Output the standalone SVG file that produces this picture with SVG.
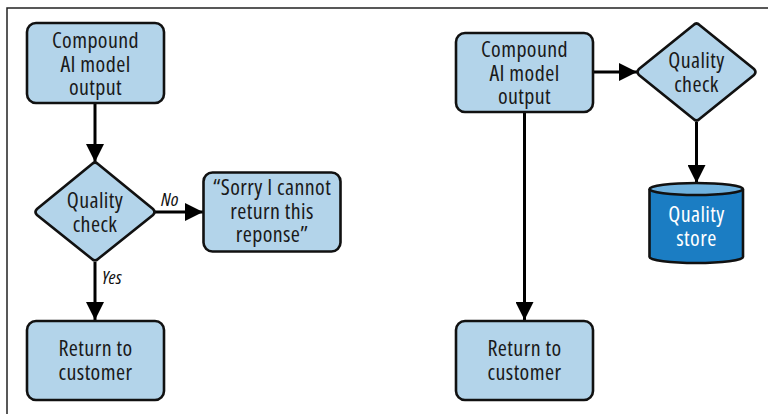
<svg xmlns="http://www.w3.org/2000/svg" width="768" height="414" viewBox="0 0 768 414">
  <style>
    .box { fill: #b3d4ea; stroke: #111; stroke-width: 2.6; }
    .lbl { font-family: "Open Sans", "Liberation Sans", sans-serif; font-stretch: 75%; font-size: 22px; letter-spacing: 0.4px; fill: #1a1a1a; text-anchor: middle; }
    .lbl-w { fill: #ffffff; }
    .edge { stroke: #000; stroke-width: 3; fill: none; }
    .tag { font-family: "Open Sans", "Liberation Sans", sans-serif; font-stretch: 75%; font-size: 19px; font-style: italic; fill: #111; }
  </style>
  <defs>
    <marker id="arrow" viewBox="0 0 18 18" refX="18" refY="9" markerWidth="18" markerHeight="18" markerUnits="userSpaceOnUse" orient="auto">
      <path d="M0,0 L18,9 L0,18 Z" fill="#000"/>
    </marker>
  </defs>

  <rect width="768" height="414" fill="#ffffff"/>
  <!-- page frame -->
  <path d="M7,414 V8 H768" fill="none" stroke="#222" stroke-width="1.5"/>

  <!-- connectors -->
  <g id="connectors">
    <line class="edge" x1="95" y1="104" x2="95" y2="162" marker-end="url(#arrow)"/>
    <line class="edge" x1="155" y1="212" x2="203" y2="212" marker-end="url(#arrow)"/>
    <line class="edge" x1="95" y1="262" x2="95" y2="320" marker-end="url(#arrow)"/>
    <text class="tag" x="161" y="206">No</text>
    <text class="tag" x="102" y="284">Yes</text>

    <line class="edge" x1="594" y1="72" x2="637" y2="72" marker-end="url(#arrow)"/>
    <line class="edge" x1="696.5" y1="122" x2="696.5" y2="183" marker-end="url(#arrow)"/>
    <line class="edge" x1="524.5" y1="113" x2="524.5" y2="320" marker-end="url(#arrow)"/>
  </g>

  <!-- left flow -->
  <g id="left-output">
    <rect class="box" x="27" y="23" width="137" height="80" rx="9"/>
    <text class="lbl" x="95.5" y="48">Compound</text>
    <text class="lbl" x="95.5" y="72">AI model</text>
    <text class="lbl" x="95.5" y="95">output</text>
  </g>
  <g id="left-check">
    <path class="box" d="M92,164 Q95,161 98,164 L153,209 Q156,212 153,215 L98,259 Q95,262 92,259 L37,215 Q34,212 37,209 Z"/>
    <text class="lbl" x="95" y="208">Quality</text>
    <text class="lbl" x="95" y="232">check</text>
  </g>
  <g id="left-refuse">
    <rect class="box" x="203.5" y="172.5" width="137" height="79" rx="9"/>
    <text class="lbl" x="272" y="195">“Sorry I cannot</text>
    <text class="lbl" x="272" y="219">return this</text>
    <text class="lbl" x="272" y="242">reponse”</text>
  </g>
  <g id="left-return">
    <rect class="box" x="27" y="321" width="137" height="79" rx="9"/>
    <text class="lbl" x="95.5" y="356">Return to</text>
    <text class="lbl" x="95.5" y="380">customer</text>
  </g>

  <!-- right flow -->
  <g id="right-output">
    <rect class="box" x="456" y="33" width="137" height="79" rx="9"/>
    <text class="lbl" x="524.5" y="57">Compound</text>
    <text class="lbl" x="524.5" y="81">AI model</text>
    <text class="lbl" x="524.5" y="104">output</text>
  </g>
  <g id="right-check">
    <path class="box" d="M693.5,25 Q696.5,22 699.5,25 L754,69 Q757,72 754,75 L699.5,119 Q696.5,122 693.5,119 L639,75 Q636,72 639,69 Z"/>
    <text class="lbl" x="696.5" y="68">Quality</text>
    <text class="lbl" x="696.5" y="92">check</text>
  </g>
  <g id="right-store">
    <path d="M649.5,189 V257 A46.75,6 0 0 0 743,257 V189" fill="#1b7dc3" stroke="#111" stroke-width="2.6"/>
    <ellipse cx="696.25" cy="189" rx="46.75" ry="6" fill="#6fb2df" stroke="#111" stroke-width="2.6"/>
    <text class="lbl lbl-w" x="696.5" y="222">Quality</text>
    <text class="lbl lbl-w" x="696.5" y="246">store</text>
  </g>
  <g id="right-return">
    <rect class="box" x="456" y="321" width="137" height="79" rx="9"/>
    <text class="lbl" x="524.5" y="356">Return to</text>
    <text class="lbl" x="524.5" y="380">customer</text>
  </g>
</svg>
